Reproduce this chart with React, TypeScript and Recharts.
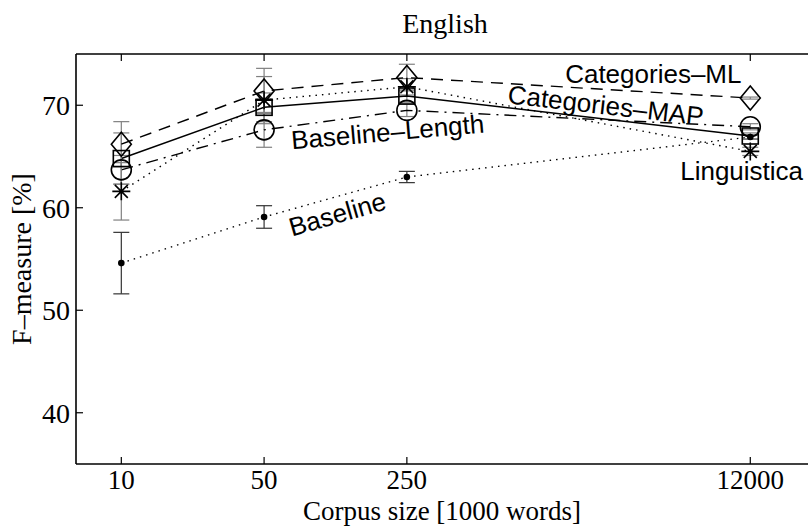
import React from 'react';
import { LineChart, Line, XAxis, YAxis, ErrorBar, ReferenceDot, ReferenceLine } from 'recharts';

// ---- data ----
const corpusSizes = [10, 50, 250, 12000];
const categoriesML = [66.2, 71.4, 72.7, 70.7];
const categoriesMLErr = [2.2, 2.2, 1.3, 0.1];
const categoriesMAP = [64.8, 69.8, 70.9, 67.0];
const categoriesMAPErr = [2.5, 1.4, 0.6, 0.3];
const baselineLength = [63.7, 67.6, 69.5, 67.9];
const baselineLengthErr = [1.4, 1.7, 0.6, 0.3];
const linguistica = [61.6, 70.5, 71.8, 65.5];
const linguisticaErr = [2.8, 2.3, 0.8, 0.4];
const baseline = [54.6, 59.1, 63.0, 66.9];
const baselineErr = [3.0, 1.1, 0.55, 0.2];
const xTicks = [10, 50, 250, 12000];
const yTicks = [40, 50, 60, 70];
const Y_MIN = 35;
const Y_MAX = 75;

const annotations = [
  { text: 'Categories\u2013ML', x: 1489, y: 72.2, angle: 0 },
  { text: 'Categories\u2013MAP', x: 774, y: 70.2, angle: 6.5 },
  { text: 'Baseline\u2013Length', x: 68.4, y: 65.7, angle: -5 },
  { text: 'Baseline', x: 68.4, y: 57.2, angle: -16 },
  { text: 'Linguistica', x: 5445, y: 62.7, angle: 0 },
];

const chartData = corpusSizes.map((size, i) => ({
  size,
  ml: categoriesML[i],
  mlErr: categoriesMLErr[i],
  map: categoriesMAP[i],
  mapErr: categoriesMAPErr[i],
  bl: baselineLength[i],
  blErr: baselineLengthErr[i],
  ling: linguistica[i],
  lingErr: linguisticaErr[i],
  base: baseline[i],
  baseErr: baselineErr[i],
}));

const SERIF = "'Liberation Serif', 'Times New Roman', Times, serif";
const SANS = "'Liberation Sans', Arial, Helvetica, sans-serif";
const MK = 1.6;
const TICK_LEN = 7;
const X_TICK_MARGIN = 5.5;
const Y_TICK_MARGIN = 5;
const TICK_FONT = 27;

const renderDiamond = (p: any) => {
  const { cx, cy } = p;
  if (cx == null || cy == null) return <g key={p.key} />;
  return (
    <path key={p.key} d={`M${cx},${cy - 12}L${cx + 10},${cy}L${cx},${cy + 12}L${cx - 10},${cy}Z`} fill="none" stroke="#000" strokeWidth={MK} />
  );
};
const renderSquare = (p: any) => {
  const { cx, cy } = p;
  if (cx == null || cy == null) return <g key={p.key} />;
  return <rect key={p.key} x={cx - 8} y={cy - 8} width={16} height={16} fill="none" stroke="#000" strokeWidth={MK} />;
};
const renderCircle = (p: any) => {
  const { cx, cy } = p;
  if (cx == null || cy == null) return <g key={p.key} />;
  return <circle key={p.key} cx={cx} cy={cy} r={10} fill="none" stroke="#000" strokeWidth={MK} />;
};
const renderStar = (p: any) => {
  const { cx, cy } = p;
  if (cx == null || cy == null) return <g key={p.key} />;
  const r = 9;
  const d = r * 0.72;
  return (
    <path
      key={p.key}
      d={`M${cx - r},${cy}L${cx + r},${cy}M${cx},${cy - r}L${cx},${cy + r}M${cx - d},${cy - d}L${cx + d},${cy + d}M${cx - d},${cy + d}L${cx + d},${cy - d}`}
      fill="none"
      stroke="#000"
      strokeWidth={MK}
    />
  );
};
const renderPoint = (p: any) => {
  const { cx, cy } = p;
  if (cx == null || cy == null) return <g key={p.key} />;
  return <circle key={p.key} cx={cx} cy={cy} r={3.3} fill="#000" stroke="none" />;
};

// bottom axis tick: label plus an inward tick line
const XTick = (props: any) => {
  const { x, y, payload } = props;
  const axisY = y - X_TICK_MARGIN;
  return (
    <g>
      <line x1={x} y1={axisY} x2={x} y2={axisY - TICK_LEN} stroke="#000" strokeWidth={1.2} />
      <text x={x} y={y} dy="0.71em" textAnchor="middle" fontFamily={SERIF} fontSize={TICK_FONT} fill="#000">
        {payload.value}
      </text>
    </g>
  );
};
// left axis tick: label plus an inward tick line
const YTick = (props: any) => {
  const { x, y, payload } = props;
  const axisX = x + Y_TICK_MARGIN;
  return (
    <g>
      <line x1={axisX} y1={y} x2={axisX + TICK_LEN} y2={y} stroke="#000" strokeWidth={1.2} />
      <text x={x - 1} y={y} dy="0.36em" textAnchor="end" fontFamily={SERIF} fontSize={28} fill="#000">
        {payload.value}
      </text>
    </g>
  );
};

const renderYLabel = (props: any) => {
  const vb = props.viewBox || { x: 0, y: 54, width: 76, height: 410 };
  const cy = vb.y + vb.height / 2;
  return (
    <text transform={`translate(31, ${cy}) rotate(-90)`} textAnchor="middle" fontFamily={SERIF} fontSize={28} fill="#000">
      F{'\u2013'}measure [%]
    </text>
  );
};
const renderXLabel = (props: any) => {
  const vb = props.viewBox || { x: 76, y: 464, width: 732, height: 62 };
  return (
    <text x={vb.x + vb.width / 2} y={520} textAnchor="middle" fontFamily={SERIF} fontSize={27} fill="#000">
      Corpus size [1000 words]
    </text>
  );
};
const renderTitle = (props: any) => {
  const vb = props.viewBox || { x: 76, y: 54, width: 732, height: 0 };
  return (
    <text x={vb.x + vb.width / 2 + 3} y={33} textAnchor="middle" fontFamily={SERIF} fontSize={28} fill="#000">
      English
    </text>
  );
};

const makeAnnotationShape = (text: string, angle: number) => (p: any) => {
  const { cx, cy } = p;
  if (cx == null || cy == null) return <g />;
  return (
    <text transform={`translate(${cx}, ${cy}) rotate(${angle})`} x={0} y={0} textAnchor="start" fontFamily={SANS} fontSize={26} fill="#000">
      {text}
    </text>
  );
};

const X_DOMAIN: [number, number] = [6, 23000];
const axisLineStyle = { stroke: '#000', strokeWidth: 1.6 };
// top-axis inward tick length expressed in data units (7px of a 410px / 40-unit axis)
const TOP_TICK_UNITS = (TICK_LEN * (Y_MAX - Y_MIN)) / 410;

export default function App() {
  return (
    <div style={{ position: 'absolute', left: 0, top: 0, width: 808, height: 526, background: '#fff' }}>
      <LineChart width={808} height={526} data={chartData} margin={{ top: 54, right: 0, bottom: 0, left: 0 }}>
        <XAxis
          type="number"
          dataKey="size"
          scale="log"
          domain={X_DOMAIN}
          ticks={xTicks}
          allowDataOverflow
          height={62}
          tickSize={0}
          tickMargin={X_TICK_MARGIN}
          tickLine={false}
          tick={XTick}
          axisLine={axisLineStyle}
          label={renderXLabel}
        />
        <YAxis
          type="number"
          domain={[Y_MIN, Y_MAX]}
          ticks={yTicks}
          allowDataOverflow
          width={76}
          tickSize={0}
          tickMargin={Y_TICK_MARGIN}
          tickLine={false}
          tick={YTick}
          axisLine={axisLineStyle}
          label={renderYLabel}
        />
        <ReferenceLine y={Y_MAX} stroke="#000" strokeWidth={1.6} ifOverflow="visible" label={renderTitle} />
        {xTicks.map((t) => (
          <ReferenceLine
            key={`top-${t}`}
            segment={[{ x: t, y: Y_MAX }, { x: t, y: Y_MAX - TOP_TICK_UNITS }]}
            stroke="#000"
            strokeWidth={1.2}
            ifOverflow="visible"
          />
        ))}
        <Line dataKey="base" stroke="#000" strokeWidth={1.4} strokeDasharray="1.5 5" dot={renderPoint} activeDot={false} isAnimationActive={false}>
          <ErrorBar dataKey="baseErr" width={8} stroke="#333" strokeWidth={1.2} direction="y" />
        </Line>
        <Line dataKey="ling" stroke="#000" strokeWidth={1.4} strokeDasharray="1.5 5" dot={renderStar} activeDot={false} isAnimationActive={false}>
          <ErrorBar dataKey="lingErr" width={8} stroke="#808080" strokeWidth={1.2} direction="y" />
        </Line>
        <Line dataKey="bl" stroke="#000" strokeWidth={1.4} strokeDasharray="12 6 2 6" dot={renderCircle} activeDot={false} isAnimationActive={false}>
          <ErrorBar dataKey="blErr" width={8} stroke="#808080" strokeWidth={1.2} direction="y" />
        </Line>
        <Line dataKey="map" stroke="#000" strokeWidth={1.5} dot={renderSquare} activeDot={false} isAnimationActive={false}>
          <ErrorBar dataKey="mapErr" width={8} stroke="#808080" strokeWidth={1.2} direction="y" />
        </Line>
        <Line dataKey="ml" stroke="#000" strokeWidth={1.4} strokeDasharray="12 8" dot={renderDiamond} activeDot={false} isAnimationActive={false}>
          <ErrorBar dataKey="mlErr" width={8} stroke="#808080" strokeWidth={1.2} direction="y" />
        </Line>
        {annotations.map((a) => (
          <ReferenceDot key={a.text} x={a.x} y={a.y} r={1} ifOverflow="visible" shape={makeAnnotationShape(a.text, a.angle)} />
        ))}
      </LineChart>
    </div>
  );
}
